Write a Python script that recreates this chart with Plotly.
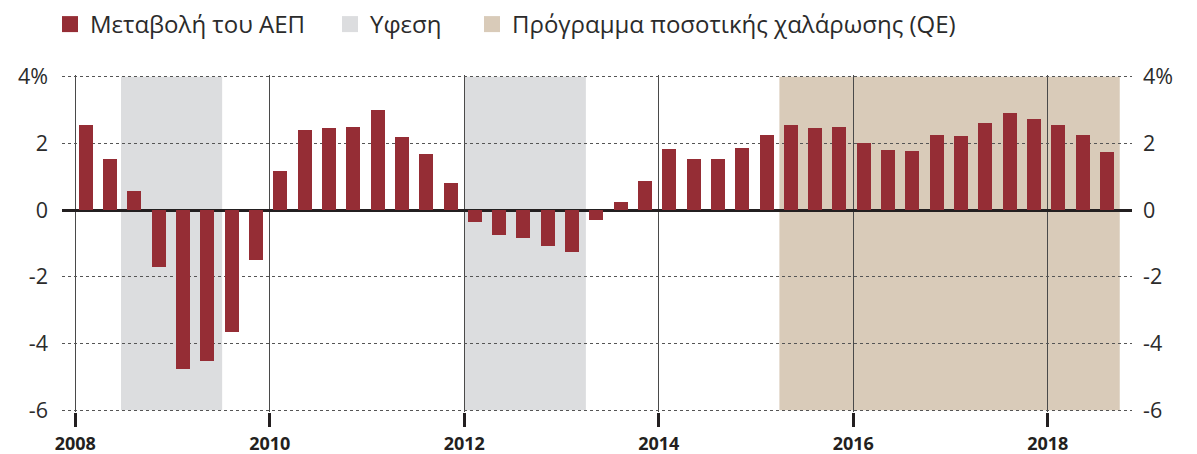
import plotly.graph_objects as go

# ---- data ----
quarters = [
    "2008Q1", "2008Q2", "2008Q3", "2008Q4",
    "2009Q1", "2009Q2", "2009Q3", "2009Q4",
    "2010Q1", "2010Q2", "2010Q3", "2010Q4",
    "2011Q1", "2011Q2", "2011Q3", "2011Q4",
    "2012Q1", "2012Q2", "2012Q3", "2012Q4",
    "2013Q1", "2013Q2", "2013Q3", "2013Q4",
    "2014Q1", "2014Q2", "2014Q3", "2014Q4",
    "2015Q1", "2015Q2", "2015Q3", "2015Q4",
    "2016Q1", "2016Q2", "2016Q3", "2016Q4",
    "2017Q1", "2017Q2", "2017Q3", "2017Q4",
    "2018Q1", "2018Q2", "2018Q3",
]
gdp_change = [
    2.54, 1.53, 0.56, -1.71,
    -4.77, -4.53, -3.66, -1.50,
    1.16, 2.39, 2.45, 2.48,
    3.00, 2.18, 1.67, 0.80,
    -0.36, -0.75, -0.84, -1.08,
    -1.26, -0.30, 0.23, 0.86,
    1.82, 1.52, 1.52, 1.85,
    2.24, 2.54, 2.45, 2.48,
    2.00, 1.79, 1.76, 2.24,
    2.21, 2.60, 2.90, 2.72,
    2.54, 2.24, 1.73,
]
recession_start = [2008.47, 2012.0]
recession_end = [2009.51, 2013.25]
qe_start = [2015.24]
qe_end = [2018.74]

year_ticks = [2008, 2010, 2012, 2014, 2016, 2018]
year_labels = ["2008", "2010", "2012", "2014", "2016", "2018"]
y_ticks = [-6, -4, -2, 0, 2, 4]
y_labels = ["-6", "-4", "-2", "0", "2", "4%"]

legend_names = ["Μεταβολή του ΑΕΠ", "Υφεση", "Πρόγραμμα ποσοτικής χαλάρωσης (QE)"]

# ---- styles ----
BAR = "#952d35"
GRAY = "#dcdddf"
BEIGE = "#d9cbb9"
TXT = "#2b2b2b"
FONT = "Open Sans"


def qpos(label):
    y, q = label.split("Q")
    return int(y) + (int(q) - 1) / 4 + 0.108


x_pos = [qpos(q) for q in quarters]

fig = go.Figure()
fig.add_trace(go.Bar(
    x=x_pos, y=gdp_change, width=0.144, marker=dict(color=BAR, line=dict(width=0)),
    showlegend=False, name=legend_names[0], hovertext=quarters,
))

legend_colors = [BAR, GRAY, BEIGE]
legend_ids = ["legend", "legend2", "legend3"]
for name, col, lid in zip(legend_names, legend_colors, legend_ids):
    fig.add_trace(go.Scatter(
        x=[None], y=[None], mode="markers", yaxis="y2",
        marker=dict(symbol="square", size=16, color=col, line=dict(width=0)),
        name=name, legend=lid, showlegend=True,
    ))

shapes = []
for s, e in zip(recession_start, recession_end):
    shapes.append(dict(type="rect", xref="x", yref="y", x0=s, x1=e, y0=-6, y1=4,
                       fillcolor=GRAY, line=dict(width=0), layer="below"))
for s, e in zip(qe_start, qe_end):
    shapes.append(dict(type="rect", xref="x", yref="y", x0=s, x1=e, y0=-6, y1=4,
                       fillcolor=BEIGE, line=dict(width=0), layer="below"))

# the page has an 8px body margin, so the figure is shrunk by that offset
OFF = 8
W, H = 1197 - OFF, 454 - OFF
PL, PR, PT, PB = 62, 1132, 75, 412  # plot area in page pixels
ML, MR, MT, MB = PL - OFF, 1197 - PR, PT - OFF, 454 - PB
pw = PR - PL
ph = PB - PT


def px_x(px):
    return (px - PL) / pw


leg_y = 1 + (PT - 24.5) / ph
leg_common = dict(orientation="h", yanchor="middle", y=leg_y, xanchor="left",
                  font=dict(family=FONT, size=24, color=TXT),
                  bgcolor="rgba(0,0,0,0)", borderwidth=0, itemsizing="trace")

fig.update_layout(
    width=W, height=H,
    margin=dict(l=ML, r=MR, t=MT, b=MB, autoexpand=False),
    paper_bgcolor="white", plot_bgcolor="white",
    bargap=0,
    shapes=shapes,
    legend=dict(x=px_x(50), **leg_common),
    legend2=dict(x=px_x(330), **leg_common),
    legend3=dict(x=px_x(472), **leg_common),
    xaxis=dict(
        range=[2007.863, 2018.866], tickvals=year_ticks, ticktext=year_labels,
        showgrid=True, gridcolor="#4a4a4a", gridwidth=1,
        zeroline=False, showline=False, automargin=False,
        ticks="outside", ticklen=14, tickwidth=3, tickcolor="#231f20",
        ticklabelstandoff=1,
        tickfont=dict(family=FONT, size=18, color="#231f20", weight="bold"),
    ),
    yaxis=dict(
        range=[-6.05, 4.05], tickvals=y_ticks, ticktext=y_labels,
        showgrid=True, gridcolor="#555555", gridwidth=1, griddash="dot",
        zeroline=True, zerolinecolor="#231f20", zerolinewidth=3,
        showline=False, ticks="", ticklabelstandoff=13, automargin=False,
        tickfont=dict(family=FONT, size=21.5, color=TXT),
    ),
    yaxis2=dict(
        range=[-6.05, 4.05], tickvals=y_ticks, ticktext=y_labels,
        overlaying="y", side="right", showgrid=False, zeroline=False,
        showline=False, ticks="", ticklabelstandoff=10, automargin=False,
        tickfont=dict(family=FONT, size=21.5, color=TXT),
    ),
)

fig.write_html("out.html")
